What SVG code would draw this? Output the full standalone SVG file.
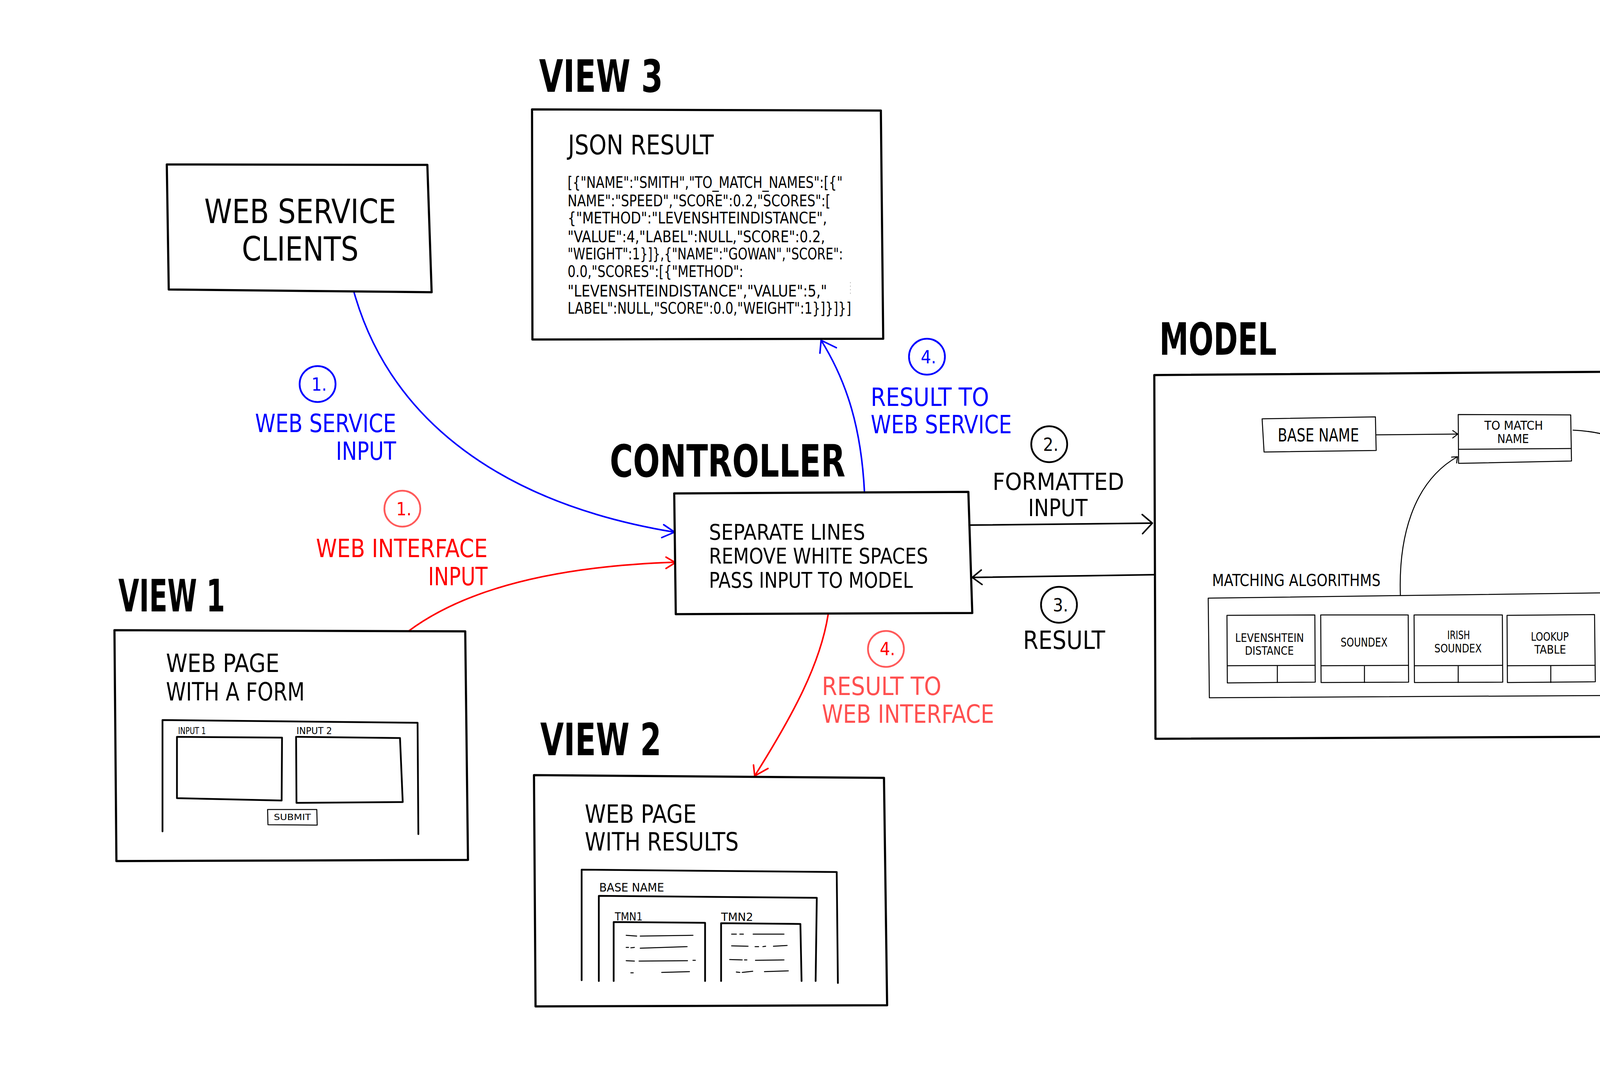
<svg xmlns="http://www.w3.org/2000/svg" width="4765" height="2749" viewBox="0 0 4765 2749">
<style>
text{font-family:"Liberation Sans Narrow","DejaVu Sans Condensed","Liberation Sans",sans-serif;fill:#000}
.title{font-size:114px;font-weight:bold}
.box{fill:none;stroke:#000;stroke-width:5.5;stroke-linejoin:round;stroke-linecap:round}
.inner{fill:none;stroke:#000;stroke-width:4.5;stroke-linejoin:round;stroke-linecap:round}
.thin{fill:none;stroke:#000;stroke-width:2.5;stroke-linejoin:round;stroke-linecap:round}
.dash{fill:none;stroke:#000;stroke-width:2.5;stroke-linecap:round}
.blue{fill:none;stroke:#0000ff;stroke-width:4;stroke-linecap:round;stroke-linejoin:round}
.red{fill:none;stroke:#ff0000;stroke-width:4;stroke-linecap:round;stroke-linejoin:round}
.blk{fill:none;stroke:#000;stroke-width:4;stroke-linecap:round;stroke-linejoin:round}
.circ{fill:none;stroke-width:4.5}
.lbl{font-size:64px}
.num{font-size:46px;text-anchor:middle}
.json{font-size:40px}
.ctl{font-size:56px}
.page{font-size:64px}
.tiny{font-size:24px}
</style>
<rect x="0" y="0" width="4765" height="2749" fill="#fff"/>

<g id="connectors">
  <!-- web service clients -> controller -->
  <path class="blue" d="M 906 747 C 1000 1080, 1290 1290, 1726 1362"/>
  <path class="blue" d="M 1699 1343 L 1727 1362 L 1694 1376"/>
  <!-- view1 -> controller -->
  <path class="red" d="M 1045 1616 C 1180 1515, 1400 1450, 1729 1439"/>
  <path class="red" d="M 1705 1426 L 1729 1440 L 1705 1455"/>
  <!-- controller -> view3 -->
  <path class="blue" d="M 2213 1259 C 2205 1100, 2170 980, 2102 871"/>
  <path class="blue" d="M 2099 904 L 2102 871 L 2141 890"/>
  <!-- controller -> view2 -->
  <path class="red" d="M 2120 1573 C 2100 1700, 2030 1830, 1932 1986"/>
  <path class="red" d="M 1929 1958 L 1932 1986 L 1966 1967"/>
  <!-- controller -> model -->
  <path class="blk" d="M 2484 1344 L 2949 1339"/>
  <path class="blk" d="M 2924 1317 L 2950 1339 L 2925 1366"/>
  <!-- model -> controller -->
  <path class="blk" d="M 2955 1471 L 2489 1478"/>
  <path class="blk" d="M 2512 1459 L 2489 1478 L 2514 1496"/>
  <!-- model internal -->
  <path class="thin" d="M 3523 1113 L 3731 1111"/>
  <path class="thin" d="M 3719 1102 L 3732 1111 L 3719 1121"/>
  <path class="thin" d="M 3585 1524 C 3580 1380, 3615 1235, 3731 1169"/>
  <path class="thin" d="M 3716 1170 L 3731 1169 L 3729 1185"/>
  <path class="thin" d="M 4027 1101 C 4250 1110, 4375 1290, 4370 1420 C 4365 1570, 4260 1675, 4142 1692"/>
  <path class="thin" d="M 4158 1675 L 4142 1692 L 4163 1703"/>
</g>

<g id="web-service-clients">
  <path class="box" d="M 427 421 L 1094 422 L 1105 748 L 432 741 Z"/>
  <text x="523" y="571" font-size="86" textLength="491" lengthAdjust="spacingAndGlyphs">WEB SERVICE</text>
  <text x="619" y="667" font-size="86" textLength="299" lengthAdjust="spacingAndGlyphs">CLIENTS</text>
</g>

<g id="label-ws-input">
  <circle class="circ" cx="813" cy="983" r="46" stroke="#0000ff"/>
  <text class="num" x="817" y="1000" style="fill:#0000ff">1.</text>
  <text class="lbl" x="653" y="1106" style="fill:#0000ff" textLength="361" lengthAdjust="spacingAndGlyphs">WEB SERVICE</text>
  <text class="lbl" x="860" y="1177" style="fill:#0000ff" textLength="154" lengthAdjust="spacingAndGlyphs">INPUT</text>
</g>

<g id="label-wi-input">
  <circle class="circ" cx="1030" cy="1302" r="46" stroke="#ff5a5a"/>
  <text class="num" x="1034" y="1319" style="fill:#ff0000">1.</text>
  <text class="lbl" x="809" y="1426" style="fill:#ff0000" textLength="439" lengthAdjust="spacingAndGlyphs">WEB INTERFACE</text>
  <text class="lbl" x="1096" y="1498" style="fill:#ff0000" textLength="152" lengthAdjust="spacingAndGlyphs">INPUT</text>
</g>

<g id="view3">
  <text class="title" x="1380" y="235" textLength="317" lengthAdjust="spacingAndGlyphs">VIEW 3</text>
  <path class="box" d="M 1362 280 L 2255 283 L 2261 867 L 1363 869 Z"/>
  <text x="1454" y="395" font-size="70" textLength="373" lengthAdjust="spacingAndGlyphs">JSON RESULT</text>
  <text class="json" x="1453" y="481" textLength="704" lengthAdjust="spacingAndGlyphs">[{"NAME":"SMITH","TO_MATCH_NAMES":[{"</text>
  <text class="json" x="1453" y="528" textLength="673" lengthAdjust="spacingAndGlyphs">NAME":"SPEED","SCORE":0.2,"SCORES":[</text>
  <text class="json" x="1453" y="572" textLength="664" lengthAdjust="spacingAndGlyphs">{"METHOD":"LEVENSHTEINDISTANCE",</text>
  <text class="json" x="1453" y="620" textLength="659" lengthAdjust="spacingAndGlyphs">"VALUE":4,"LABEL":NULL,"SCORE":0.2,</text>
  <text class="json" x="1453" y="664" textLength="705" lengthAdjust="spacingAndGlyphs">"WEIGHT":1}]},{"NAME":"GOWAN","SCORE":</text>
  <text class="json" x="1453" y="709" textLength="450" lengthAdjust="spacingAndGlyphs">0.0,"SCORES":[{"METHOD":</text>
  <text class="json" x="1453" y="759" textLength="664" lengthAdjust="spacingAndGlyphs">"LEVENSHTEINDISTANCE","VALUE":5,"</text>
  <text class="json" x="1453" y="803" textLength="726" lengthAdjust="spacingAndGlyphs">LABEL":NULL,"SCORE":0.0,"WEIGHT":1}]}]}]</text>
  <path d="M 2177 722 L 2177 756" stroke="#aaa" stroke-width="1.5" stroke-dasharray="3 6" fill="none"/>
</g>

<g id="label-result-ws">
  <circle class="circ" cx="2373" cy="913" r="46" stroke="#0000ff"/>
  <text class="num" x="2377" y="930" style="fill:#0000ff">4.</text>
  <text class="lbl" x="2229" y="1039" style="fill:#0000ff" textLength="303" lengthAdjust="spacingAndGlyphs">RESULT TO</text>
  <text class="lbl" x="2229" y="1109" style="fill:#0000ff" textLength="361" lengthAdjust="spacingAndGlyphs">WEB SERVICE</text>
</g>

<g id="controller">
  <text class="title" x="1561" y="1220" textLength="603" lengthAdjust="spacingAndGlyphs">CONTROLLER</text>
  <path class="box" d="M 1726 1263 L 2479 1259 L 2489 1569 L 1730 1572 Z"/>
  <text class="ctl" x="1815" y="1381" textLength="400" lengthAdjust="spacingAndGlyphs">SEPARATE LINES</text>
  <text class="ctl" x="1815" y="1442" textLength="561" lengthAdjust="spacingAndGlyphs">REMOVE WHITE SPACES</text>
  <text class="ctl" x="1815" y="1504" textLength="522" lengthAdjust="spacingAndGlyphs">PASS INPUT TO MODEL</text>
</g>

<g id="label-formatted-input">
  <circle class="circ" cx="2686" cy="1137" r="46" stroke="#000"/>
  <text class="num" x="2690" y="1154">2.</text>
  <text class="lbl" x="2541" y="1254" font-size="60" style="font-size:60px" textLength="337" lengthAdjust="spacingAndGlyphs">FORMATTED</text>
  <text class="lbl" x="2632" y="1321" font-size="60" style="font-size:60px" textLength="152" lengthAdjust="spacingAndGlyphs">INPUT</text>
</g>

<g id="label-result">
  <circle class="circ" cx="2711" cy="1548" r="46" stroke="#000"/>
  <text class="num" x="2715" y="1565">3.</text>
  <text class="lbl" x="2619" y="1661" textLength="210" lengthAdjust="spacingAndGlyphs">RESULT</text>
</g>

<g id="label-result-wi">
  <circle class="circ" cx="2268" cy="1661" r="46" stroke="#ff5a5a"/>
  <text class="num" x="2272" y="1677" style="fill:#ff0000">4.</text>
  <text class="lbl" x="2104" y="1779" style="fill:#ff5050" textLength="306" lengthAdjust="spacingAndGlyphs">RESULT TO</text>
  <text class="lbl" x="2104" y="1850" style="fill:#ff5050" textLength="441" lengthAdjust="spacingAndGlyphs">WEB INTERFACE</text>
</g>

<g id="model">
  <text class="title" x="2968" y="908" textLength="300" lengthAdjust="spacingAndGlyphs">MODEL</text>
  <path class="box" d="M 2955 960 L 4481 949 L 4489 1884 L 2958 1891 Z"/>
</g>

<g id="base-name">
  <path class="thin" d="M 3231 1072 L 3521 1067 L 3523 1153 L 3236 1157 Z"/>
  <text x="3271" y="1130" font-size="46" textLength="208" lengthAdjust="spacingAndGlyphs">BASE NAME</text>
</g>

<g id="to-match-name">
  <path class="thin" d="M 3733 1061 L 4021 1062 L 4023 1180 L 3734 1186 Z"/>
  <path class="thin" d="M 3734 1150 L 4022 1148"/>
  <text x="3800" y="1100" font-size="32" textLength="150" lengthAdjust="spacingAndGlyphs">TO MATCH</text>
  <text x="3833" y="1134" font-size="32" textLength="81" lengthAdjust="spacingAndGlyphs">NAME</text>
</g>

<g id="matching-algorithms">
  <text x="3103" y="1500" font-size="43" textLength="431" lengthAdjust="spacingAndGlyphs">MATCHING ALGORITHMS</text>
  <path class="thin" d="M 3093 1531 L 4139 1517 L 4136 1780 L 3096 1786 Z"/>
</g>

<g id="levenshtein">
  <path class="thin" d="M 3141 1575 L 3366 1574 L 3367 1746 L 3142 1748 Z"/>
  <path class="thin" d="M 3142 1704 L 3366 1703 M 3270 1704 L 3270 1747"/>
  <text x="3162" y="1643" font-size="30" textLength="176" lengthAdjust="spacingAndGlyphs">LEVENSHTEIN</text>
  <text x="3187" y="1676" font-size="30" textLength="125" lengthAdjust="spacingAndGlyphs">DISTANCE</text>
</g>

<g id="soundex">
  <path class="thin" d="M 3381 1574 L 3605 1574 L 3606 1746 L 3382 1747 Z"/>
  <path class="thin" d="M 3382 1704 L 3605 1703 M 3493 1704 L 3493 1747"/>
  <text x="3432" y="1655" font-size="32" textLength="120" lengthAdjust="spacingAndGlyphs">SOUNDEX</text>
</g>

<g id="irish-soundex">
  <path class="thin" d="M 3620 1574 L 3846 1574 L 3847 1746 L 3621 1747 Z"/>
  <path class="thin" d="M 3621 1704 L 3846 1703 M 3733 1704 L 3733 1747"/>
  <text x="3705" y="1636" font-size="30" textLength="58" lengthAdjust="spacingAndGlyphs">IRISH</text>
  <text x="3672" y="1670" font-size="30" textLength="121" lengthAdjust="spacingAndGlyphs">SOUNDEX</text>
</g>

<g id="lookup-table">
  <path class="thin" d="M 3858 1575 L 4082 1573 L 4084 1745 L 3859 1747 Z"/>
  <path class="thin" d="M 3859 1704 L 4083 1703 M 3970 1704 L 3970 1747"/>
  <text x="3919" y="1640" font-size="30" textLength="97" lengthAdjust="spacingAndGlyphs">LOOKUP</text>
  <text x="3928" y="1673" font-size="30" textLength="81" lengthAdjust="spacingAndGlyphs">TABLE</text>
</g>

<g id="view1">
  <text class="title" x="303" y="1565" textLength="273" lengthAdjust="spacingAndGlyphs">VIEW 1</text>
  <path class="box" d="M 293 1613 L 1191 1616 L 1198 2201 L 298 2204 Z"/>
  <text class="page" x="425" y="1720" textLength="290" lengthAdjust="spacingAndGlyphs">WEB PAGE</text>
  <text class="page" x="425" y="1793" textLength="355" lengthAdjust="spacingAndGlyphs">WITH A FORM</text>
  <path class="inner" d="M 416 2128 L 416 1843 L 1069 1850 L 1071 2135"/>
  <text class="tiny" x="456" y="1879" textLength="71" lengthAdjust="spacingAndGlyphs">INPUT 1</text>
  <text class="tiny" x="759" y="1879" textLength="91" lengthAdjust="spacingAndGlyphs">INPUT 2</text>
  <path class="inner" d="M 453 1886 L 722 1888 L 721 2049 L 453 2043 Z"/>
  <path class="inner" d="M 758 1886 L 1024 1889 L 1031 2053 L 759 2055 Z"/>
  <path class="thin" d="M 685 2072 L 811 2072 L 812 2112 L 686 2111 Z"/>
  <text x="701" y="2099" font-size="21" textLength="95" lengthAdjust="spacingAndGlyphs">SUBMIT</text>
</g>

<g id="view2">
  <text class="title" x="1383" y="1933" textLength="310" lengthAdjust="spacingAndGlyphs">VIEW 2</text>
  <path class="box" d="M 1367 1984 L 2263 1991 L 2271 2573 L 1371 2576 Z"/>
  <text class="page" x="1497" y="2106" textLength="286" lengthAdjust="spacingAndGlyphs">WEB PAGE</text>
  <text class="page" x="1497" y="2177" textLength="394" lengthAdjust="spacingAndGlyphs">WITH RESULTS</text>
  <path class="inner" d="M 1489 2509 L 1489 2226 L 2142 2232 L 2145 2516"/>
  <text x="1534" y="2282" font-size="30" textLength="166" lengthAdjust="spacingAndGlyphs">BASE NAME</text>
  <path class="inner" d="M 1533 2511 L 1533 2293 L 2091 2298 L 2088 2511"/>
  <text x="1574" y="2356" font-size="29" textLength="71" lengthAdjust="spacingAndGlyphs">TMN1</text>
  <text x="1846" y="2357" font-size="29" textLength="82" lengthAdjust="spacingAndGlyphs">TMN2</text>
  <path class="inner" d="M 1571 2511 L 1571 2360 L 1805 2362 L 1805 2511"/>
  <path class="inner" d="M 1846 2511 L 1846 2363 L 2049 2365 L 2052 2511"/>
  <path class="dash" d="M 1603 2394 L 1630 2396 M 1639 2396 L 1774 2394 M 1603 2425 L 1609 2425 M 1615 2426 L 1624 2425 M 1639 2427 L 1759 2423 M 1603 2459 L 1624 2460 M 1636 2460 L 1760 2459 M 1774 2458 L 1780 2458 M 1615 2490 L 1621 2490 M 1694 2489 L 1765 2487"/>
  <path class="dash" d="M 1873 2391 L 1885 2391 M 1894 2391 L 1903 2391 M 1928 2391 L 2007 2391 M 1873 2421 L 1915 2422 M 1933 2423 L 1942 2423 M 1953 2423 L 1960 2422 M 1980 2422 L 2015 2420 M 1868 2456 L 1900 2457 M 1906 2457 L 1912 2457 M 1934 2458 L 2007 2457 M 1885 2488 L 1894 2489 M 1900 2489 L 1927 2486 M 1957 2487 L 2018 2485"/>
</g>
</svg>
